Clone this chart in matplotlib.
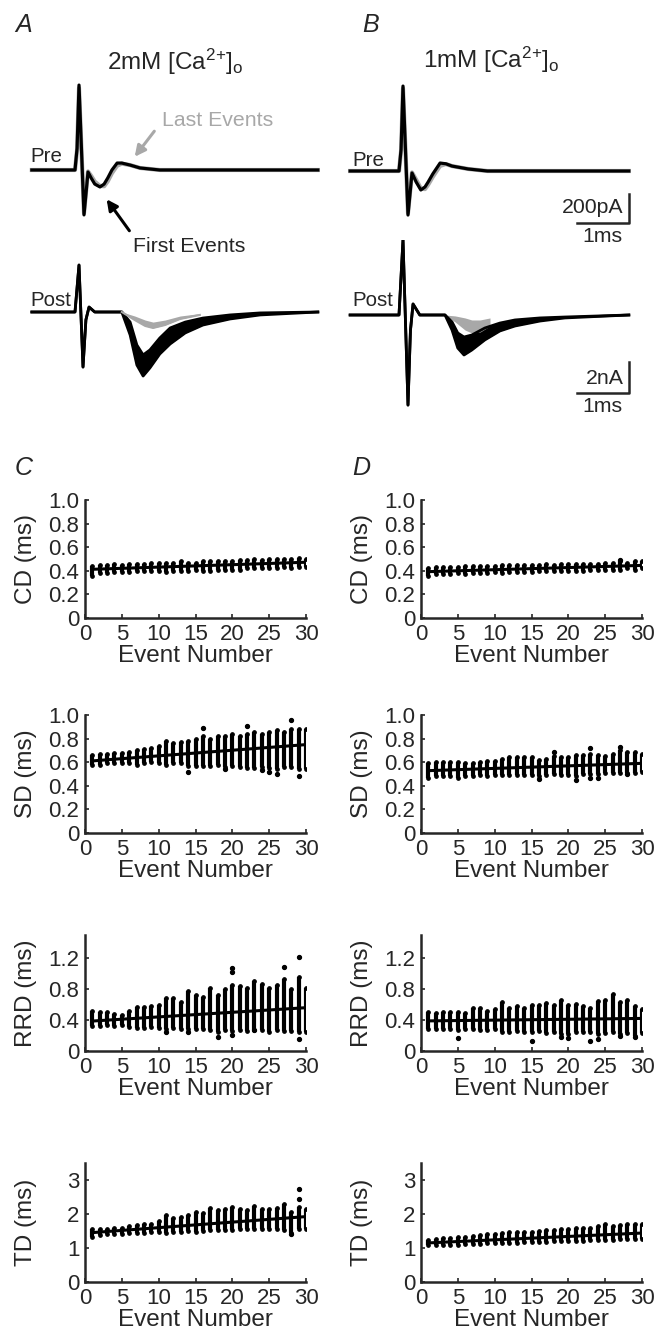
import numpy as np
import matplotlib
matplotlib.use("Agg")
import matplotlib.pyplot as plt

plt.rcParams['font.family'] = ['Liberation Sans', 'DejaVu Sans']
plt.rcParams['mathtext.fontset'] = 'custom'
plt.rcParams['mathtext.rm'] = 'Liberation Sans'
plt.rcParams['mathtext.it'] = 'Liberation Sans:italic'

W, H = 664, 1336
INK = '#262626'
GRAY = '#a8a8a8'

# ---------------- traces (ms, pA for pre / nA for post) ----------------
a_pre_t = [-0.83, 0.0, 0.04, 0.077, 0.173, 0.25, 0.31, 0.38, 0.48, 0.56, 0.63, 0.71, 0.81, 0.90, 1.06, 1.25, 1.63, 4.67]
a_pre_first = [0, 0, 150, 586, -310, -14, -55, -97, -117, -97, -55, 0, 48, 48, 34, 14, 0, 0]
a_pre_last = [0, 0, 140, 566, -297, -10, -40, -80, -110, -112, -78, -22, 30, 44, 34, 14, 0, 0]

a_post_t = [-0.83, 0.0, 0.077, 0.154, 0.21, 0.27, 0.38, 0.90, 1.06, 1.19, 1.31, 1.44, 1.63, 1.83, 2.12, 2.46, 2.98, 3.56, 4.67]
a_post_first_hi = [0, 0, 3.03, -3.55, -0.5, 0.32, 0, 0, -0.65, -2.13, -2.77, -2.45, -1.68, -1.03, -0.65, -0.39, -0.19, -0.06, 0]
a_post_first_lo = [0, 0, 3.03, -3.55, -0.5, 0.32, 0, 0, -1.48, -3.42, -4.13, -3.61, -2.71, -2.06, -1.35, -0.84, -0.45, -0.19, 0]
a_post_last_t = [0.90, 1.15, 1.35, 1.50, 1.73, 2.02, 2.40]
a_post_last_hi = [0, -0.26, -0.52, -0.65, -0.52, -0.26, -0.10]
a_post_last_lo = [0, -0.52, -0.90, -1.03, -0.84, -0.45, -0.19]

b_pre_t = [-0.94, 0.0, 0.04, 0.077, 0.173, 0.25, 0.33, 0.42, 0.50, 0.56, 0.65, 0.79, 0.90, 1.02, 1.33, 1.70, 4.42]
b_pre_first = [0, 0, 150, 586, -304, -14, -76, -131, -110, -76, -20, 55, 50, 34, 14, 0, 0]
b_pre_last = [0, 0, 140, 570, -290, -10, -60, -120, -125, -95, -40, 35, 48, 34, 14, 0, 0]

b_post_t = [-0.94, 0.0, 0.077, 0.173, 0.22, 0.27, 0.40, 0.885, 1.02, 1.13, 1.25, 1.40, 1.65, 1.94, 2.23, 2.71, 3.19, 4.42]
b_post_first_hi = [0, 0, 4.84, -5.81, -1.0, 0.71, 0, 0, -0.45, -1.16, -1.42, -1.29, -0.84, -0.52, -0.32, -0.19, -0.13, 0]
b_post_first_lo = [0, 0, 4.84, -5.81, -1.0, 0.71, 0, 0, -0.97, -2.13, -2.58, -2.26, -1.61, -1.03, -0.71, -0.39, -0.19, 0]
b_post_last_t = [0.885, 1.08, 1.27, 1.40, 1.56, 1.75]
b_post_last_hi = [0, -0.06, -0.19, -0.32, -0.32, -0.19]
b_post_last_lo = [0, -0.45, -0.97, -1.16, -1.10, -0.71]

# ---------------- per-event delays (ms) ----------------
events = np.arange(1, 31)

cd_c_lo = [0.36, 0.38, 0.38, 0.39, 0.39, 0.39, 0.40, 0.40, 0.40, 0.40, 0.39, 0.40, 0.40, 0.40, 0.41, 0.40, 0.40, 0.41, 0.41, 0.41, 0.41, 0.42, 0.42, 0.42, 0.42, 0.42, 0.43, 0.42, 0.43, 0.43]
cd_c_hi = [0.44, 0.45, 0.45, 0.46, 0.45, 0.46, 0.46, 0.46, 0.47, 0.47, 0.47, 0.47, 0.48, 0.47, 0.47, 0.48, 0.48, 0.48, 0.48, 0.48, 0.49, 0.49, 0.50, 0.49, 0.50, 0.50, 0.50, 0.50, 0.51, 0.50]
cd_c_mean = [0.41, 0.41, 0.42, 0.42, 0.42, 0.42, 0.43, 0.43, 0.43, 0.43, 0.43, 0.44, 0.44, 0.44, 0.44, 0.44, 0.45, 0.45, 0.45, 0.45, 0.45, 0.46, 0.46, 0.46, 0.46, 0.46, 0.47, 0.47, 0.47, 0.47]
cd_c_out = []

cd_d_lo = [0.36, 0.37, 0.37, 0.37, 0.38, 0.37, 0.38, 0.38, 0.38, 0.39, 0.38, 0.39, 0.39, 0.39, 0.39, 0.40, 0.40, 0.40, 0.40, 0.40, 0.40, 0.40, 0.41, 0.41, 0.41, 0.41, 0.41, 0.42, 0.41, 0.42]
cd_d_hi = [0.42, 0.43, 0.43, 0.43, 0.43, 0.44, 0.44, 0.44, 0.44, 0.44, 0.45, 0.45, 0.45, 0.45, 0.45, 0.45, 0.46, 0.45, 0.46, 0.46, 0.46, 0.46, 0.46, 0.46, 0.47, 0.47, 0.48, 0.47, 0.48, 0.48]
cd_d_mean = [0.39, 0.39, 0.40, 0.40, 0.40, 0.40, 0.40, 0.41, 0.41, 0.41, 0.41, 0.41, 0.42, 0.42, 0.42, 0.42, 0.42, 0.42, 0.43, 0.43, 0.43, 0.43, 0.43, 0.43, 0.44, 0.44, 0.44, 0.44, 0.44, 0.45]
cd_d_out = [(27, 0.49)]

sd_c_lo = [0.58, 0.58, 0.59, 0.59, 0.59, 0.59, 0.58, 0.59, 0.60, 0.59, 0.58, 0.59, 0.59, 0.57, 0.57, 0.57, 0.57, 0.58, 0.56, 0.57, 0.56, 0.55, 0.55, 0.56, 0.55, 0.54, 0.56, 0.56, 0.54, 0.54]
sd_c_hi = [0.66, 0.67, 0.67, 0.68, 0.68, 0.69, 0.70, 0.71, 0.72, 0.74, 0.78, 0.76, 0.77, 0.78, 0.80, 0.82, 0.80, 0.82, 0.82, 0.84, 0.82, 0.84, 0.86, 0.84, 0.86, 0.87, 0.86, 0.88, 0.88, 0.88]
sd_c_mean = [0.61, 0.62, 0.62, 0.63, 0.63, 0.63, 0.64, 0.64, 0.65, 0.65, 0.66, 0.66, 0.67, 0.67, 0.68, 0.68, 0.69, 0.69, 0.70, 0.70, 0.71, 0.71, 0.72, 0.72, 0.73, 0.73, 0.73, 0.74, 0.74, 0.75]
sd_c_out = [(14, 0.52), (16, 0.89), (19, 0.54), (22, 0.91), (24, 0.53), (25, 0.52), (26, 0.50), (28, 0.96), (29, 0.48)]

sd_d_lo = [0.47, 0.48, 0.48, 0.48, 0.47, 0.48, 0.48, 0.49, 0.48, 0.49, 0.49, 0.49, 0.49, 0.49, 0.49, 0.48, 0.49, 0.50, 0.49, 0.49, 0.48, 0.50, 0.50, 0.50, 0.51, 0.51, 0.51, 0.51, 0.51, 0.52]
sd_d_hi = [0.59, 0.60, 0.60, 0.60, 0.60, 0.59, 0.59, 0.60, 0.61, 0.61, 0.63, 0.64, 0.64, 0.64, 0.64, 0.62, 0.63, 0.65, 0.64, 0.64, 0.66, 0.66, 0.67, 0.66, 0.65, 0.67, 0.70, 0.69, 0.69, 0.67]
sd_d_mean = [0.53, 0.53, 0.53, 0.54, 0.54, 0.54, 0.54, 0.54, 0.54, 0.55, 0.55, 0.55, 0.55, 0.56, 0.56, 0.56, 0.56, 0.56, 0.57, 0.57, 0.57, 0.57, 0.58, 0.58, 0.58, 0.58, 0.58, 0.59, 0.59, 0.59]
sd_d_out = [(16, 0.46), (18, 0.69), (21, 0.45), (23, 0.72), (23, 0.47), (24, 0.47), (27, 0.73), (28, 0.50)]

rrd_c_lo = [0.32, 0.32, 0.33, 0.32, 0.33, 0.31, 0.30, 0.30, 0.31, 0.30, 0.28, 0.30, 0.29, 0.28, 0.29, 0.28, 0.27, 0.25, 0.27, 0.26, 0.27, 0.26, 0.27, 0.27, 0.25, 0.27, 0.26, 0.26, 0.24, 0.25]
rrd_c_hi = [0.52, 0.50, 0.50, 0.48, 0.47, 0.52, 0.57, 0.57, 0.58, 0.60, 0.68, 0.69, 0.63, 0.77, 0.72, 0.70, 0.82, 0.72, 0.80, 0.85, 0.84, 0.82, 0.90, 0.86, 0.82, 0.85, 0.93, 0.80, 0.96, 0.82]
rrd_c_mean = [0.39, 0.40, 0.40, 0.41, 0.41, 0.42, 0.42, 0.43, 0.43, 0.44, 0.45, 0.45, 0.46, 0.46, 0.47, 0.47, 0.48, 0.49, 0.49, 0.50, 0.50, 0.51, 0.52, 0.52, 0.53, 0.54, 0.54, 0.55, 0.56, 0.57]
rrd_c_out = [(11, 0.25), (14, 0.25), (18, 0.18), (20, 1.07), (20, 1.02), (20, 0.21), (23, 0.27), (27, 1.08), (29, 1.22), (29, 0.15)]

rrd_d_lo = [0.28, 0.28, 0.29, 0.29, 0.27, 0.29, 0.28, 0.27, 0.27, 0.28, 0.24, 0.25, 0.26, 0.25, 0.24, 0.26, 0.23, 0.25, 0.22, 0.22, 0.24, 0.25, 0.24, 0.22, 0.23, 0.24, 0.22, 0.23, 0.20, 0.23]
rrd_d_hi = [0.50, 0.49, 0.50, 0.51, 0.50, 0.49, 0.56, 0.55, 0.52, 0.54, 0.63, 0.56, 0.58, 0.55, 0.60, 0.60, 0.62, 0.60, 0.66, 0.60, 0.61, 0.58, 0.56, 0.65, 0.66, 0.74, 0.64, 0.66, 0.58, 0.54]
rrd_d_mean = [0.39, 0.39, 0.39, 0.39, 0.39, 0.40, 0.40, 0.40, 0.40, 0.40, 0.40, 0.40, 0.40, 0.40, 0.40, 0.41, 0.41, 0.41, 0.41, 0.41, 0.41, 0.41, 0.41, 0.41, 0.42, 0.42, 0.42, 0.42, 0.42, 0.42]
rrd_d_out = [(5, 0.17), (15, 0.13), (19, 0.18), (20, 0.17), (23, 0.13), (24, 0.16), (27, 0.19), (29, 0.18)]

td_c_lo = [1.33, 1.38, 1.40, 1.41, 1.42, 1.44, 1.45, 1.45, 1.47, 1.46, 1.45, 1.47, 1.48, 1.50, 1.47, 1.50, 1.52, 1.52, 1.53, 1.52, 1.55, 1.55, 1.55, 1.56, 1.55, 1.56, 1.52, 1.45, 1.55, 1.56]
td_c_hi = [1.55, 1.55, 1.56, 1.58, 1.60, 1.65, 1.68, 1.70, 1.72, 1.78, 1.98, 1.88, 1.90, 1.96, 2.05, 2.02, 2.18, 2.12, 2.15, 2.22, 2.15, 2.12, 2.25, 2.15, 2.15, 2.18, 2.30, 2.05, 2.20, 2.15]
td_c_mean = [1.45, 1.47, 1.48, 1.50, 1.52, 1.53, 1.55, 1.57, 1.58, 1.60, 1.62, 1.63, 1.65, 1.66, 1.68, 1.70, 1.71, 1.73, 1.75, 1.76, 1.78, 1.79, 1.81, 1.83, 1.84, 1.86, 1.87, 1.89, 1.91, 1.92]
td_c_out = [(28, 1.40), (29, 2.45), (29, 2.75)]

td_d_lo = [1.08, 1.08, 1.09, 1.10, 1.10, 1.12, 1.12, 1.12, 1.14, 1.14, 1.15, 1.16, 1.16, 1.17, 1.18, 1.18, 1.19, 1.20, 1.20, 1.21, 1.22, 1.22, 1.24, 1.24, 1.25, 1.25, 1.26, 1.26, 1.27, 1.27]
td_d_hi = [1.25, 1.26, 1.28, 1.30, 1.31, 1.33, 1.36, 1.38, 1.40, 1.42, 1.45, 1.46, 1.47, 1.48, 1.48, 1.50, 1.52, 1.54, 1.55, 1.56, 1.58, 1.60, 1.58, 1.65, 1.70, 1.66, 1.68, 1.70, 1.72, 1.70]
td_d_mean = [1.15, 1.16, 1.17, 1.18, 1.19, 1.20, 1.21, 1.22, 1.23, 1.24, 1.25, 1.26, 1.27, 1.28, 1.29, 1.30, 1.31, 1.32, 1.33, 1.34, 1.35, 1.36, 1.37, 1.38, 1.39, 1.40, 1.41, 1.42, 1.43, 1.44]
td_d_out = []


fig = plt.figure(figsize=(W / 100, H / 100), dpi=100)


def px_axes(left, top, right, bottom):
    return fig.add_axes([left / W, 1 - bottom / H, (right - left) / W, (bottom - top) / H])


def fpos(x, y):
    return x / W, 1 - y / H


def trace_axes(left, top, right, bottom, x0, y0, xscale, yscale):
    # x0/y0: pixel of stimulus onset / baseline; xscale px per ms, yscale units per px
    ax = px_axes(left, top, right, bottom)
    ax.set_xlim((left - x0) / xscale, (right - x0) / xscale)
    ax.set_ylim((y0 - bottom) * yscale, (y0 - top) * yscale)
    ax.axis('off')
    return ax


PX_MS = 52.0
PA_PX = 6.9
NA_PX = 0.0645
FS_NOTE = 15.3

# column A
ax = trace_axes(20, 70, 330, 235, 75, 170, PX_MS, PA_PX)
ax.plot(a_pre_t, a_pre_last, color=GRAY, lw=3.0, solid_joinstyle='round')
ax.plot(a_pre_t, a_pre_first, color='k', lw=2.3, solid_joinstyle='round')

ax = trace_axes(20, 240, 330, 430, 75, 312, PX_MS, NA_PX)
ax.fill_between(a_post_t, a_post_first_lo, a_post_first_hi, color='k', lw=0)
ax.plot(a_post_t, a_post_first_hi, color='k', lw=2.0, solid_joinstyle='round')
ax.plot(a_post_t, a_post_first_lo, color='k', lw=2.0, solid_joinstyle='round')
ax.fill_between(a_post_last_t, a_post_last_lo, a_post_last_hi, color=GRAY, lw=0)
ax.plot(a_post_last_t, a_post_last_lo, color=GRAY, lw=1.5)

# column B
ax = trace_axes(340, 70, 650, 235, 399, 171, PX_MS, PA_PX)
ax.plot(b_pre_t, b_pre_last, color=GRAY, lw=3.0, solid_joinstyle='round')
ax.plot(b_pre_t, b_pre_first, color='k', lw=2.3, solid_joinstyle='round')
# scale bar 200 pA / 1 ms
cx, cy = 4.42, -359
ax.plot([cx - 1, cx, cx], [cy, cy, cy + 200], color=INK, lw=1.8, clip_on=False)
ax.text(cx - 0.1, cy + 110, '200pA', ha='right', va='center', fontsize=FS_NOTE, color=INK)
ax.text(cx - 0.5, cy - 30, '1ms', ha='center', va='top', fontsize=FS_NOTE, color=INK)

ax = trace_axes(340, 240, 650, 430, 399, 315, PX_MS, NA_PX)
ax.fill_between(b_post_t, b_post_first_lo, b_post_first_hi, color='k', lw=0)
ax.plot(b_post_t, b_post_first_hi, color='k', lw=2.0, solid_joinstyle='round')
ax.plot(b_post_t, b_post_first_lo, color='k', lw=2.0, solid_joinstyle='round')
ax.fill_between(b_post_last_t, b_post_last_lo, b_post_last_hi, color=GRAY, lw=0)
# scale bar 2 nA / 1 ms
cx, cy = 4.42, -5.03
ax.plot([cx - 1, cx, cx], [cy, cy, cy + 2], color=INK, lw=1.8, clip_on=False)
ax.text(cx - 0.1, cy + 0.95, '2nA', ha='right', va='center', fontsize=FS_NOTE, color=INK)
ax.text(cx - 0.5, cy - 0.28, '1ms', ha='center', va='top', fontsize=FS_NOTE, color=INK)

# trace labels
for x, y, s in [(30, 157, 'Pre'), (30, 300, 'Post'), (352, 160, 'Pre'), (352, 300, 'Post')]:
    fig.text(*fpos(x, y), s, ha='left', va='center', fontsize=14.8, color=INK)

fig.text(*fpos(175, 62), r'2mM [Ca$^{2{+}}$]$_\mathrm{o}$', ha='center', va='center', fontsize=17.5, color=INK)
fig.text(*fpos(491, 60), r'1mM [Ca$^{2{+}}$]$_\mathrm{o}$', ha='center', va='center', fontsize=17.5, color=INK)

for x, y, s in [(15, 25, 'A'), (362, 25, 'B'), (15, 468, 'C'), (352, 468, 'D')]:
    fig.text(*fpos(x, y), s, ha='left', va='center', fontsize=18, style='italic', color=INK)

fig.text(*fpos(162, 121), 'Last Events', ha='left', va='center', fontsize=FS_NOTE, color=GRAY)
fig.text(*fpos(133, 247), 'First Events', ha='left', va='center', fontsize=FS_NOTE, color=INK)
fig.add_artist(matplotlib.patches.FancyArrowPatch(fpos(156, 129), fpos(133, 159), transform=fig.transFigure,
                                                  arrowstyle='-|>', mutation_scale=16, lw=2.2, color=GRAY))
fig.add_artist(matplotlib.patches.FancyArrowPatch(fpos(131, 233), fpos(105, 197), transform=fig.transFigure,
                                                  arrowstyle='-|>', mutation_scale=16, lw=2.2, color='k'))

# ---------------- scatter panels ----------------
rows = [
    ('CD (ms)', 1.0, [0, 0.2, 0.4, 0.6, 0.8, 1.0], ['0', '0.2', '0.4', '0.6', '0.8', '1.0'], 500, 618,
     (cd_c_lo, cd_c_hi, cd_c_mean, cd_c_out), (cd_d_lo, cd_d_hi, cd_d_mean, cd_d_out)),
    ('SD (ms)', 1.0, [0, 0.2, 0.4, 0.6, 0.8, 1.0], ['0', '0.2', '0.4', '0.6', '0.8', '1.0'], 715, 833,
     (sd_c_lo, sd_c_hi, sd_c_mean, sd_c_out), (sd_d_lo, sd_d_hi, sd_d_mean, sd_d_out)),
    ('RRD (ms)', 1.5, [0, 0.4, 0.8, 1.2], ['0', '0.4', '0.8', '1.2'], 935, 1051,
     (rrd_c_lo, rrd_c_hi, rrd_c_mean, rrd_c_out), (rrd_d_lo, rrd_d_hi, rrd_d_mean, rrd_d_out)),
    ('TD (ms)', 3.5, [0, 1, 2, 3], ['0', '1', '2', '3'], 1163, 1282,
     (td_c_lo, td_c_hi, td_c_mean, td_c_out), (td_d_lo, td_d_hi, td_d_mean, td_d_out)),
]

for label, ymax, yt, ytl, top, bottom, dc, dd in rows:
    for (left, right), (lo, hi, mean, out) in [((85, 306), dc), ((421, 642), dd)]:
        ax = px_axes(left, top, right, bottom)
        ax.vlines(events, lo, hi, color='k', lw=3.0)
        ax.plot(events, lo, 'o', color='k', ms=2.4)
        ax.plot(events, hi, 'o', color='k', ms=2.4)
        if out:
            ox, oy = zip(*out)
            ax.plot(ox, oy, 'o', color='k', ms=2.8, clip_on=False)
        k, b = np.polyfit(events, mean, 1)
        ax.plot([1, 30], [k * 1 + b, k * 30 + b], color='k', lw=2.2)
        ax.set_xlim(0, 30)
        ax.set_ylim(0, ymax)
        ax.set_xticks([0, 5, 10, 15, 20, 25, 30])
        ax.set_yticks(yt)
        ax.set_yticklabels(ytl)
        for s in ['top', 'right']:
            ax.spines[s].set_visible(False)
        for s in ['left', 'bottom']:
            ax.spines[s].set_linewidth(1.8)
            ax.spines[s].set_color(INK)
        ax.tick_params(direction='in', length=3, width=1.2, colors=INK, labelsize=16)
        ax.tick_params(axis='x', pad=4)
        ax.tick_params(axis='y', pad=4)
        ax.set_xlabel('Event Number', fontsize=17.5, color=INK, labelpad=0)
        ax.set_ylabel(label, fontsize=17.5, color=INK)
        ax.yaxis.set_label_coords(-0.215, 0.5)

fig.savefig('out.png', dpi=100)
